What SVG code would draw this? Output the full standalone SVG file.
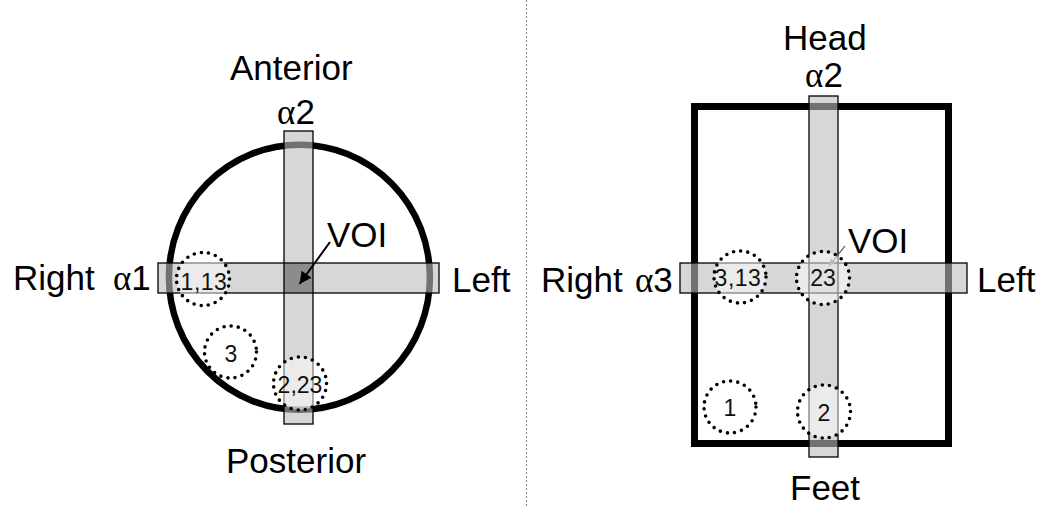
<svg xmlns="http://www.w3.org/2000/svg" width="1039" height="506" viewBox="0 0 1039 506">
<defs>
<style>
.lbl{font-family:"Liberation Sans",Arial,sans-serif;font-size:35px;fill:#000}
.gr{font-family:"Liberation Serif","Times New Roman",serif}
.num{font-family:"Liberation Sans",Arial,sans-serif;font-size:23px;fill:#111;text-anchor:middle}
.bar{fill:#bcbcbc;fill-opacity:0.6;stroke:none}
.barline{fill:none;stroke:#000;stroke-width:1.3}
.dot{fill:#fff;fill-opacity:0.5;stroke:#000;stroke-width:3.6;stroke-dasharray:0 7.2;stroke-linecap:round}
.thick{fill:none;stroke:#000}
</style>
<marker id="ah" viewBox="0 0 10 10" refX="10" refY="5" markerWidth="7" markerHeight="6" orient="auto" markerUnits="strokeWidth">
<path d="M0,0 L10,5 L0,10 z" fill="#000"/>
</marker>
<marker id="ahs" viewBox="0 0 10 10" refX="10" refY="5" markerWidth="6" markerHeight="6" orient="auto" markerUnits="strokeWidth">
<path d="M0,0 L10,5 L0,10 z" fill="#777"/>
</marker>
</defs>
<rect width="1039" height="506" fill="#fff"/>

<line x1="526.5" y1="0" x2="526.5" y2="506" stroke="#888" stroke-width="1.2" stroke-dasharray="2 2"/>

<g id="axial-view">
<ellipse class="thick" cx="299.4" cy="277.2" rx="130.5" ry="132.5" stroke-width="6.5"/>
<rect class="bar" x="284" y="131" width="29" height="293"/>
<rect class="bar" x="158" y="263" width="281" height="30"/>
<rect x="284" y="263" width="29" height="30" fill="#8c8c8c"/>
<rect class="barline" x="284" y="131" width="29" height="293"/>
<rect class="barline" x="158" y="263" width="281" height="30"/>
</g>

<g id="coronal-view">
<rect class="thick" x="694.5" y="106.5" width="254" height="337" stroke-width="7"/>
<rect class="bar" x="809" y="96" width="29" height="361"/>
<rect class="bar" x="680" y="263" width="287" height="30"/>
<rect x="809" y="263" width="29" height="30" fill="#bcbcbc" fill-opacity="0.45"/>
<rect class="barline" x="809" y="96" width="29" height="361"/>
<rect class="barline" x="680" y="263" width="287" height="30"/>
</g>

<g id="connectors">
<line x1="330" y1="242" x2="299.5" y2="284" stroke="#000" stroke-width="2" marker-end="url(#ah)"/>
<line x1="845" y1="246" x2="829" y2="266" stroke="#555" stroke-width="1.2" marker-end="url(#ahs)"/>
</g>

<g id="voi-left-1-13">
<circle class="dot" cx="203" cy="279" r="26.5"/>
<text class="num" x="204" y="290" letter-spacing="0.5">1,13</text>
</g>
<g id="voi-left-3">
<circle class="dot" cx="230.5" cy="352" r="26"/>
<text class="num" x="231" y="362">3</text>
</g>
<g id="voi-left-2-23">
<circle class="dot" cx="300" cy="383.5" r="26.5"/>
<text class="num" x="300" y="393">2,23</text>
</g>

<g id="voi-right-3-13">
<circle class="dot" cx="740" cy="277" r="26"/>
<text class="num" x="738" y="286" letter-spacing="0.5">3,13</text>
</g>
<g id="voi-right-23">
<circle class="dot" cx="823" cy="278" r="26.5"/>
<text class="num" x="823" y="286">23</text>
</g>
<g id="voi-right-1">
<circle class="dot" cx="730" cy="407" r="26"/>
<text class="num" x="730" y="416">1</text>
</g>
<g id="voi-right-2">
<circle class="dot" cx="824" cy="411.5" r="26.5"/>
<text class="num" x="824" y="421">2</text>
</g>

<g id="labels-left">
<text class="lbl" x="230" y="80">Anterior</text>
<text class="lbl" x="296" y="124" text-anchor="middle"><tspan class="gr">α</tspan>2</text>
<text class="lbl" x="13" y="290">Right</text>
<text class="lbl" x="113" y="290"><tspan class="gr">α</tspan>1</text>
<text class="lbl" x="452" y="292">Left</text>
<text class="lbl" x="226" y="473">Posterior</text>
<text class="lbl" x="327" y="247">VOI</text>
</g>

<g id="labels-right">
<text class="lbl" x="783" y="50">Head</text>
<text class="lbl" x="824" y="87" text-anchor="middle"><tspan class="gr">α</tspan>2</text>
<text class="lbl" x="541" y="292">Right</text>
<text class="lbl" x="635" y="292"><tspan class="gr">α</tspan>3</text>
<text class="lbl" x="977" y="292">Left</text>
<text class="lbl" x="848" y="253">VOI</text>
<text class="lbl" x="790" y="500">Feet</text>
</g>
</svg>
